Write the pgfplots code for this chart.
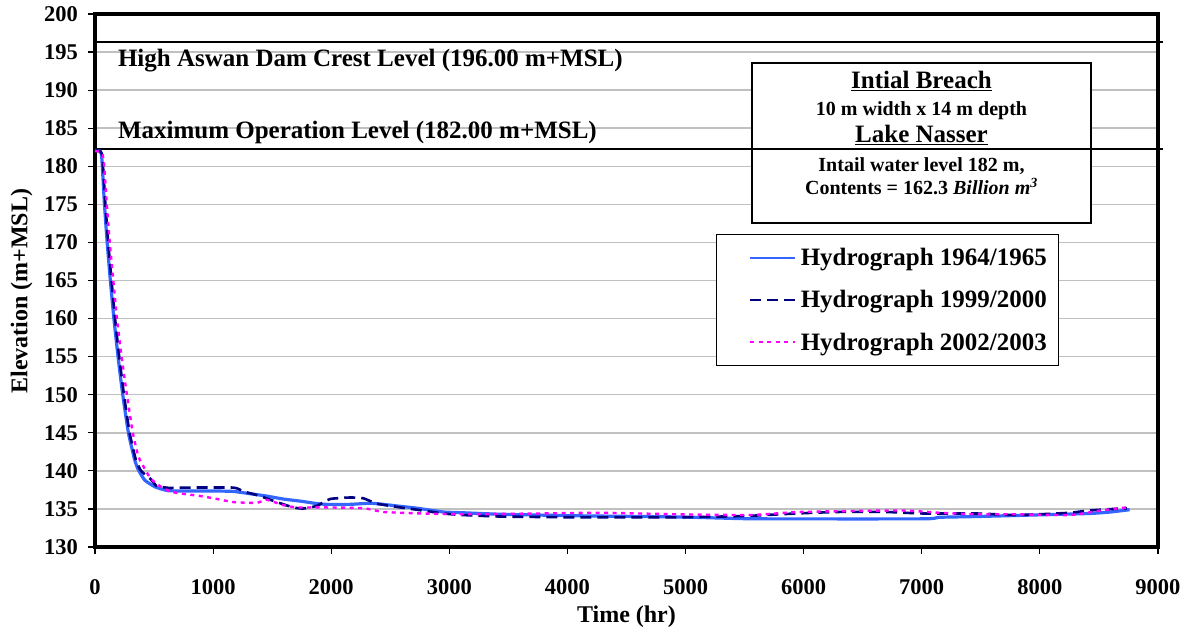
\documentclass[border=0pt]{standalone}
\usepackage{fontspec}
\setmainfont{Liberation Serif}
\usepackage{pgfplots}
\pgfplotsset{compat=1.18}
\definecolor{hblue}{RGB}{51,102,255}
\definecolor{hnavy}{RGB}{0,0,128}
\definecolor{hmag}{RGB}{255,0,255}
\definecolor{gridgray}{RGB}{192,192,192}

\begin{document}
\begin{tikzpicture}
\begin{axis}[
  at={(95pt,85pt)}, anchor=south west,
  scale only axis, width=1063pt, height=533pt,
  xmin=0, xmax=9000, ymin=130, ymax=200,
  xtick distance=1000, ytick distance=5,
  axis line style={line width=3.5pt},
  ymajorgrids, grid style={gridgray, line width=1.5pt},
  tick align=outside, tick pos=left,
  tick style={black, line width=1.2pt}, major tick length=7pt,
  /pgf/number format/assume math mode=true,
  /pgf/number format/set thousands separator={},
  ticklabel style={font=\fontsize{22.5}{22.5}\selectfont\bfseries},
  xticklabel style={anchor=center, yshift=-33pt},
  yticklabel style={anchor=east, inner sep=0pt, xshift=-10pt},
  xlabel={Time (hr)}, ylabel={Elevation (m+MSL)},
  label style={font=\fontsize{24}{24}\selectfont\bfseries},
  xlabel style={at={(axis description cs:0.5,-0.1313)}, anchor=center},
  ylabel style={at={(axis description cs:-0.0690,0.48)}, anchor=center},
  clip=false,
  legend cell align=left,
  legend image code/.code={%
    \path (0pt,0pt) (69pt,0pt);
    \draw[#1, line width=2pt] (22pt,0pt) -- (67pt,0pt);},
  legend style={at={(axis cs:5258,171.1)}, anchor=north west, draw=black,
    line width=1.2pt, fill=white,
    font=\fontsize{25}{25}\selectfont\bfseries,
    inner xsep=10pt, inner ysep=11.5pt, row sep=19.5pt},
]

% annotation box with breach data
\draw[line width=2pt, fill=white] (axis cs:5563,193.56) rectangle (axis cs:8434,172.55);
\node[anchor=base, font=\fontsize{25}{25}\selectfont\bfseries] at (axis cs:6998,190.24) {\underline{Intial Breach}};
\node[anchor=base, font=\fontsize{20}{20}\selectfont\bfseries] at (axis cs:6998,186.73) {10 m width x 14 m depth};
\node[anchor=base, font=\fontsize{25}{25}\selectfont\bfseries] at (axis cs:6998,183.15) {\underline{Lake Nasser}};
\node[anchor=base, font=\fontsize{20}{20}\selectfont\bfseries] at (axis cs:6998,179.29) {Intail water level 182 m,};
\node[anchor=base, font=\fontsize{20}{20}\selectfont\bfseries] at (axis cs:6998,176.23) {Contents = 162.3 \textit{Billion m\textsuperscript{3}}};

% reference levels
\addplot[black, line width=2pt, forget plot] coordinates {(0,196.36) (9043,196.36)};
\addplot[black, line width=2pt, forget plot] coordinates {(0,182.23) (9043,182.23)};
\node[anchor=base west, font=\fontsize{25}{25}\selectfont\bfseries] at (axis cs:165,193.08) {High Aswan Dam Crest Level (196.00 m+MSL)};
\node[anchor=base west, font=\fontsize{25}{25}\selectfont\bfseries] at (axis cs:165,183.67) {Maximum Operation Level (182.00 m+MSL)};

% reservoir level hydrographs
\addplot[hblue, line width=3.2pt, smooth, tension=0.3] coordinates {
(0,182.1) (40,182.0) (55,181.5) (62,180) (80,175) (103,170) (130,165) (160,160)
(195,155) (235,150) (283,145) (335,141.5) (365,140.2) (420,138.8) (508,137.9)
(618,137.4) (800,137.35) (1030,137.35) (1171,137.3) (1312,137.0) (1450,136.7)
(1594,136.3) (1750,136.0) (1877,135.7) (1962,135.6) (2159,135.6) (2328,135.75)
(2441,135.6) (2580,135.35) (2724,135.1) (2949,134.6) (3113,134.5) (3438,134.3)
(4086,134.1) (4928,133.95) (5300,133.8) (5614,133.7) (7017,133.7) (7143,133.9)
(7463,134.0) (7941,134.2) (8419,134.4) (8600,134.6) (8760,134.9)
};
\addlegendentry{Hydrograph 1964/1965}

\addplot[hnavy, line width=2.6pt, dash pattern=on 11pt off 6pt, smooth, tension=0.3] coordinates {
(0,182.1) (45,182.0) (60,181.5) (68,180) (88,175) (112,170) (140,165) (170,160)
(205,155) (245,150) (293,145) (345,141.5) (390,140) (466,139.0) (522,138.0)
(578,137.85) (635,137.75) (748,137.8) (1171,137.8) (1256,137.3) (1397,136.7)
(1538,135.9) (1679,135.2) (1764,135.05) (1877,135.4) (1990,136.3) (2159,136.5)
(2272,136.4) (2385,135.7) (2583,135.2) (2724,134.9) (2949,134.4) (3113,134.2)
(3438,134.0) (4086,133.9) (4928,133.9) (5300,134.0) (5550,134.1) (5933,134.4)
(6283,134.6) (6698,134.6) (7017,134.4) (7463,134.4) (7782,134.2) (8000,134.3)
(8259,134.5) (8419,134.8) (8738,135.1)
};
\addlegendentry{Hydrograph 1999/2000}

\addplot[hmag, line width=2.4pt, dash pattern=on 4pt off 4.5pt, smooth, tension=0.3] coordinates {
(0,182.0) (45,181.9) (65,181.5) (78,180) (100,175) (125,170) (155,165) (186,160)
(225,155) (270,150) (320,145) (365,142) (395,141.0) (466,139.1) (530,138.2)
(607,137.5) (692,137.1) (889,136.7) (1002,136.4) (1171,135.9) (1369,135.8)
(1454,136.2) (1594,135.5) (1708,135.2) (1933,135.2) (2272,135.1) (2441,134.6)
(2780,134.4) (3113,134.3) (3760,134.4) (4276,134.5) (4911,134.3) (5550,134.2)
(5965,134.6) (6824,134.8) (7143,134.5) (7463,134.3) (7782,134.3) (8259,134.2)
(8515,134.8) (8738,135.2)
};
\addlegendentry{Hydrograph 2002/2003}
\end{axis}
\pgfresetboundingbox
\path[use as bounding box] (0,0) rectangle (1190pt,632pt);
\end{tikzpicture}
\end{document}
